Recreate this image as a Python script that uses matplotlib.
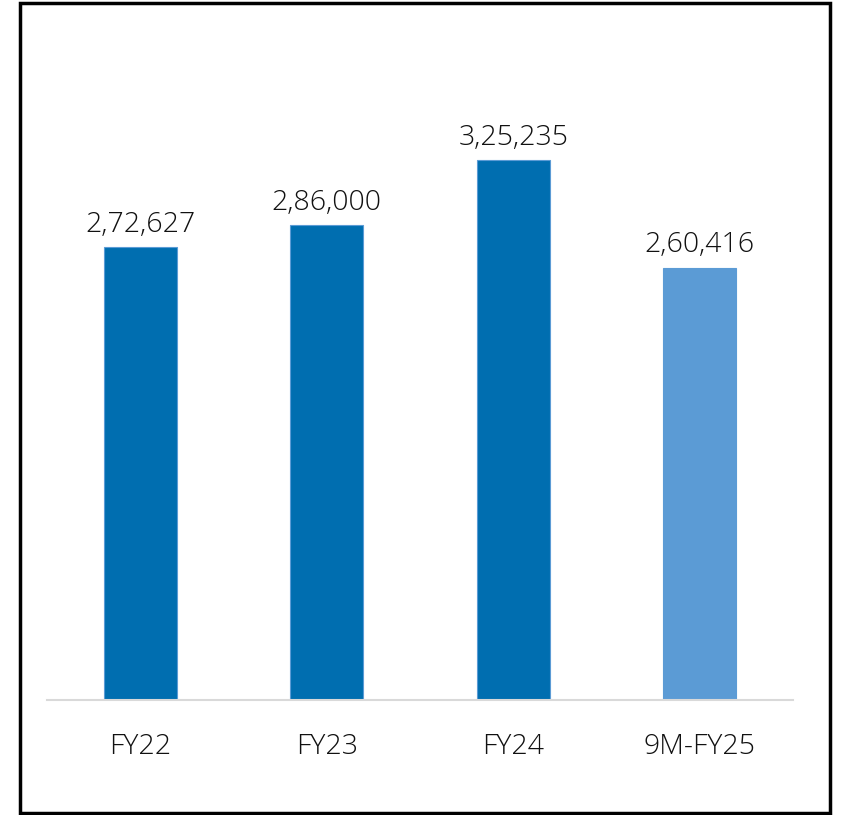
import matplotlib.pyplot as plt
from matplotlib.patches import Rectangle

categories = ["FY22", "FY23", "FY24", "9M-FY25"]
values = [272627, 286000, 325235, 260416]
labels = ["2,72,627", "2,86,000", "3,25,235", "2,60,416"]
colors = ["#006EB0", "#006EB0", "#006EB0", "#5B9BD5"]

W, H = 841, 815
fig = plt.figure(figsize=(W / 100, H / 100), dpi=100)
plt.rcParams["font.family"] = ["Open Sans", "DejaVu Sans"]

# axes: baseline at y=700px, left 47px, right 793px
ax = fig.add_axes([47 / W, (H - 700) / H, (793 - 47) / W, 581 / H])
x = range(len(categories))
ax.bar(x, values, width=0.39, color=colors, edgecolor="#5B9BD5", linewidth=0.8, zorder=2)
ax.set_xlim(-0.5, len(categories) - 0.5)
ax.set_ylim(0, 350000)

for i, v in enumerate(values):
    ax.text(i, v + 5000, labels[i], ha="center", va="bottom", fontsize=20.5,
            fontweight="light", color="#111111")

ax.set_xticks(list(x))
ax.set_xticklabels(categories, fontsize=20.5, fontweight="light", color="#111111")
ax.tick_params(axis="x", length=0, pad=24)
ax.set_yticks([])
for s in ["top", "right", "left"]:
    ax.spines[s].set_visible(False)
ax.spines["bottom"].set_color("#D9D9D9")
ax.spines["bottom"].set_linewidth(1.5)

# outer frame
fig.patches.append(Rectangle((20 / W, 2 / H), 810 / W, 810 / H, transform=fig.transFigure,
                             fill=False, edgecolor="black", linewidth=2.5))

fig.savefig("out.png", dpi=100)
